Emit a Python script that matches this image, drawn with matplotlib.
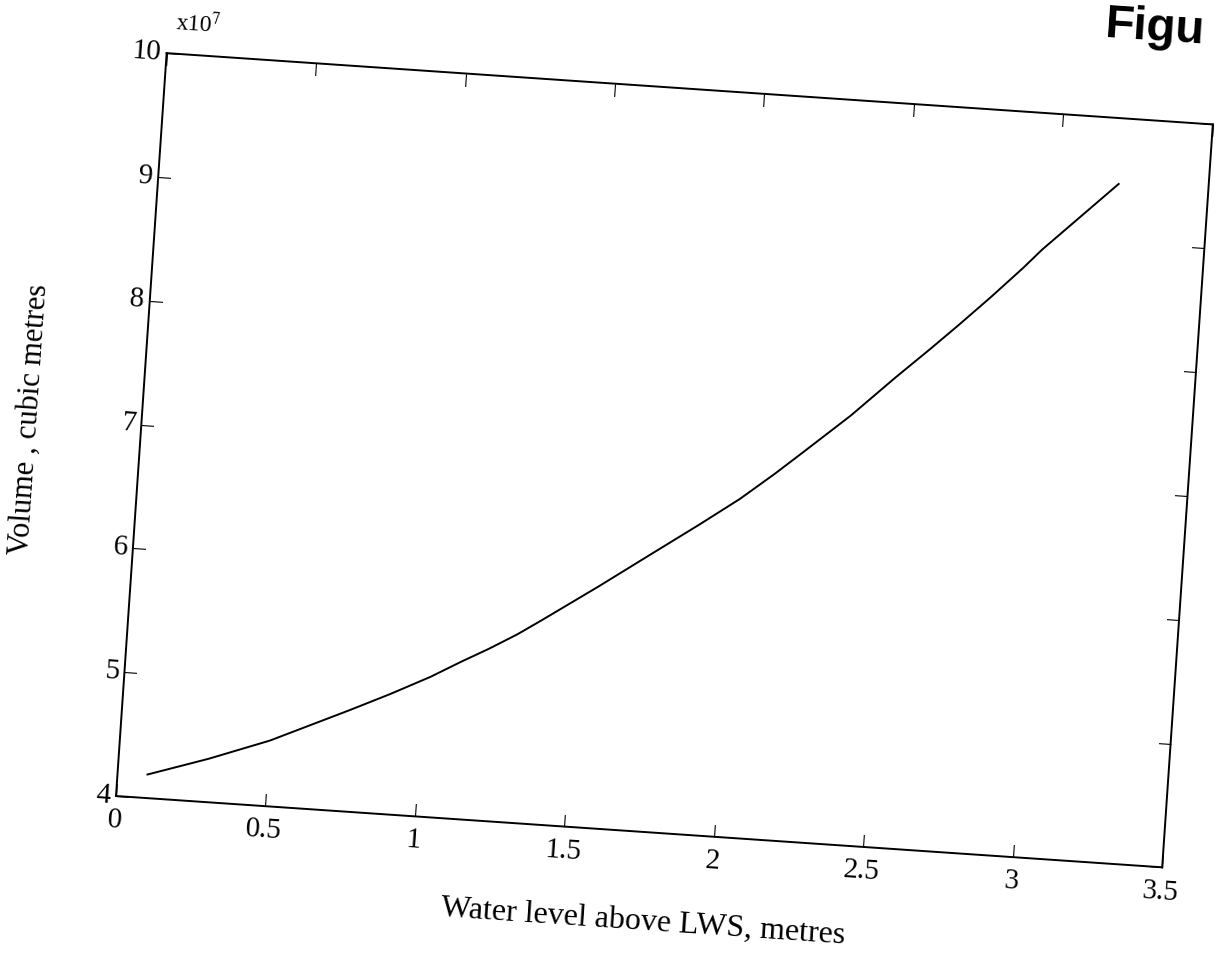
import numpy as np
import matplotlib
matplotlib.use('Agg')
import matplotlib.pyplot as plt
from matplotlib.transforms import Affine2D
import mpl_toolkits.axisartist.floating_axes as floating_axes
from mpl_toolkits.axisartist.grid_finder import FixedLocator, DictFormatter

plt.rcParams['font.family'] = ['Liberation Serif', 'DejaVu Serif']
plt.rcParams['mathtext.fontset'] = 'stix'

# water level above LWS (m) and stored volume (x1e7 m3)
level = [0.10, 0.30, 0.50, 0.76, 0.89, 1.02, 1.12, 1.21, 1.30, 1.38, 1.56, 1.74,
         1.88, 2.01, 2.12, 2.21, 2.36, 2.50, 2.61, 2.70, 2.80, 2.90, 2.96, 3.20]
volume = [4.19, 4.35, 4.53, 4.82, 4.97, 5.13, 5.27, 5.39, 5.52, 5.65, 5.95, 6.26,
          6.50, 6.73, 6.95, 7.14, 7.46, 7.79, 8.04, 8.25, 8.49, 8.74, 8.90, 9.47]

xticks = [0, 0.5, 1, 1.5, 2, 2.5, 3, 3.5]
xticklabels = ['0', '0.5', '1', '1.5', '2', '2.5', '3', '3.5']
yticks = [4, 5, 6, 7, 8, 9, 10]
yticklabels = ['4', '5', '6', '7', '8', '9', '10']

W, H = 1217, 957
fig = plt.figure(figsize=(W / 100, H / 100), dpi=100)

''' the scanned page is turned a few degrees clockwise '''
tilt = -3.9
sx, sy = 299.6, 124.1          # pixels per data unit
tr = Affine2D().scale(sx, sy).rotate_deg(tilt)

helper = floating_axes.GridHelperCurveLinear(
    tr, extremes=(0, 3.5, 4, 10),
    grid_locator1=FixedLocator(xticks),
    tick_formatter1=DictFormatter(dict(zip(xticks, xticklabels))),
    grid_locator2=FixedLocator(yticks),
    tick_formatter2=DictFormatter(dict(zip(yticks, yticklabels))))

''' place the host axes so the (0, 4) corner sits where it is on the scan '''
corners = tr.transform([(0, 4), (3.5, 4), (0, 10), (3.5, 10)])
x0, x1 = corners[:, 0].min(), corners[:, 0].max()
y0, y1 = corners[:, 1].min(), corners[:, 1].max()
w, h = (x1 - x0) * 1.02, (y1 - y0) * 1.02
ex0, ey0 = (x0 + x1) / 2 - w / 2, (y0 + y1) / 2 - h / 2
left = 116 - (corners[0, 0] - ex0)
bottom = 161 - (corners[0, 1] - ey0)

ax = fig.add_axes([left / W, bottom / H, w / W, h / H],
                  axes_class=floating_axes.FloatingAxes, grid_helper=helper)
aux = ax.get_aux_axes(tr)
aux.plot(level, volume, color='black', lw=1.4)

for side in ['left', 'right', 'bottom', 'top']:
    a = ax.axis[side]
    a.line.set_linewidth(1.4)
    a.major_ticks.set_ticksize(9)
    a.major_ticks.set_tick_out(False)
    a.major_ticklabels.set_fontsize(21)
ax.axis['bottom'].major_ticklabels.set_pad(9)
ax.axis['left'].major_ticklabels.set_pad(4)
ax.axis['top'].toggle(ticklabels=False, label=False)
ax.axis['right'].toggle(ticklabels=False, label=False)

fig.text(643 / W, 35 / H, 'Water level above LWS, metres', fontsize=23,
         rotation=tilt, ha='center', va='center')
fig.text(30 / W, 537 / H, 'Volume , cubic metres', fontsize=22,
         rotation=90 + tilt, ha='center', va='center')
fig.text(198 / W, 933 / H, r'x10$^{7}$', fontsize=17,
         rotation=tilt, ha='center', va='center')
# only the start of the page caption is on the scan
fig.text(1105 / W, 920 / H, 'Figu', fontsize=34, fontweight='bold',
         family='Liberation Sans', rotation=tilt, ha='left', va='baseline',
         rotation_mode='anchor')

fig.savefig('out.png', dpi=100)
